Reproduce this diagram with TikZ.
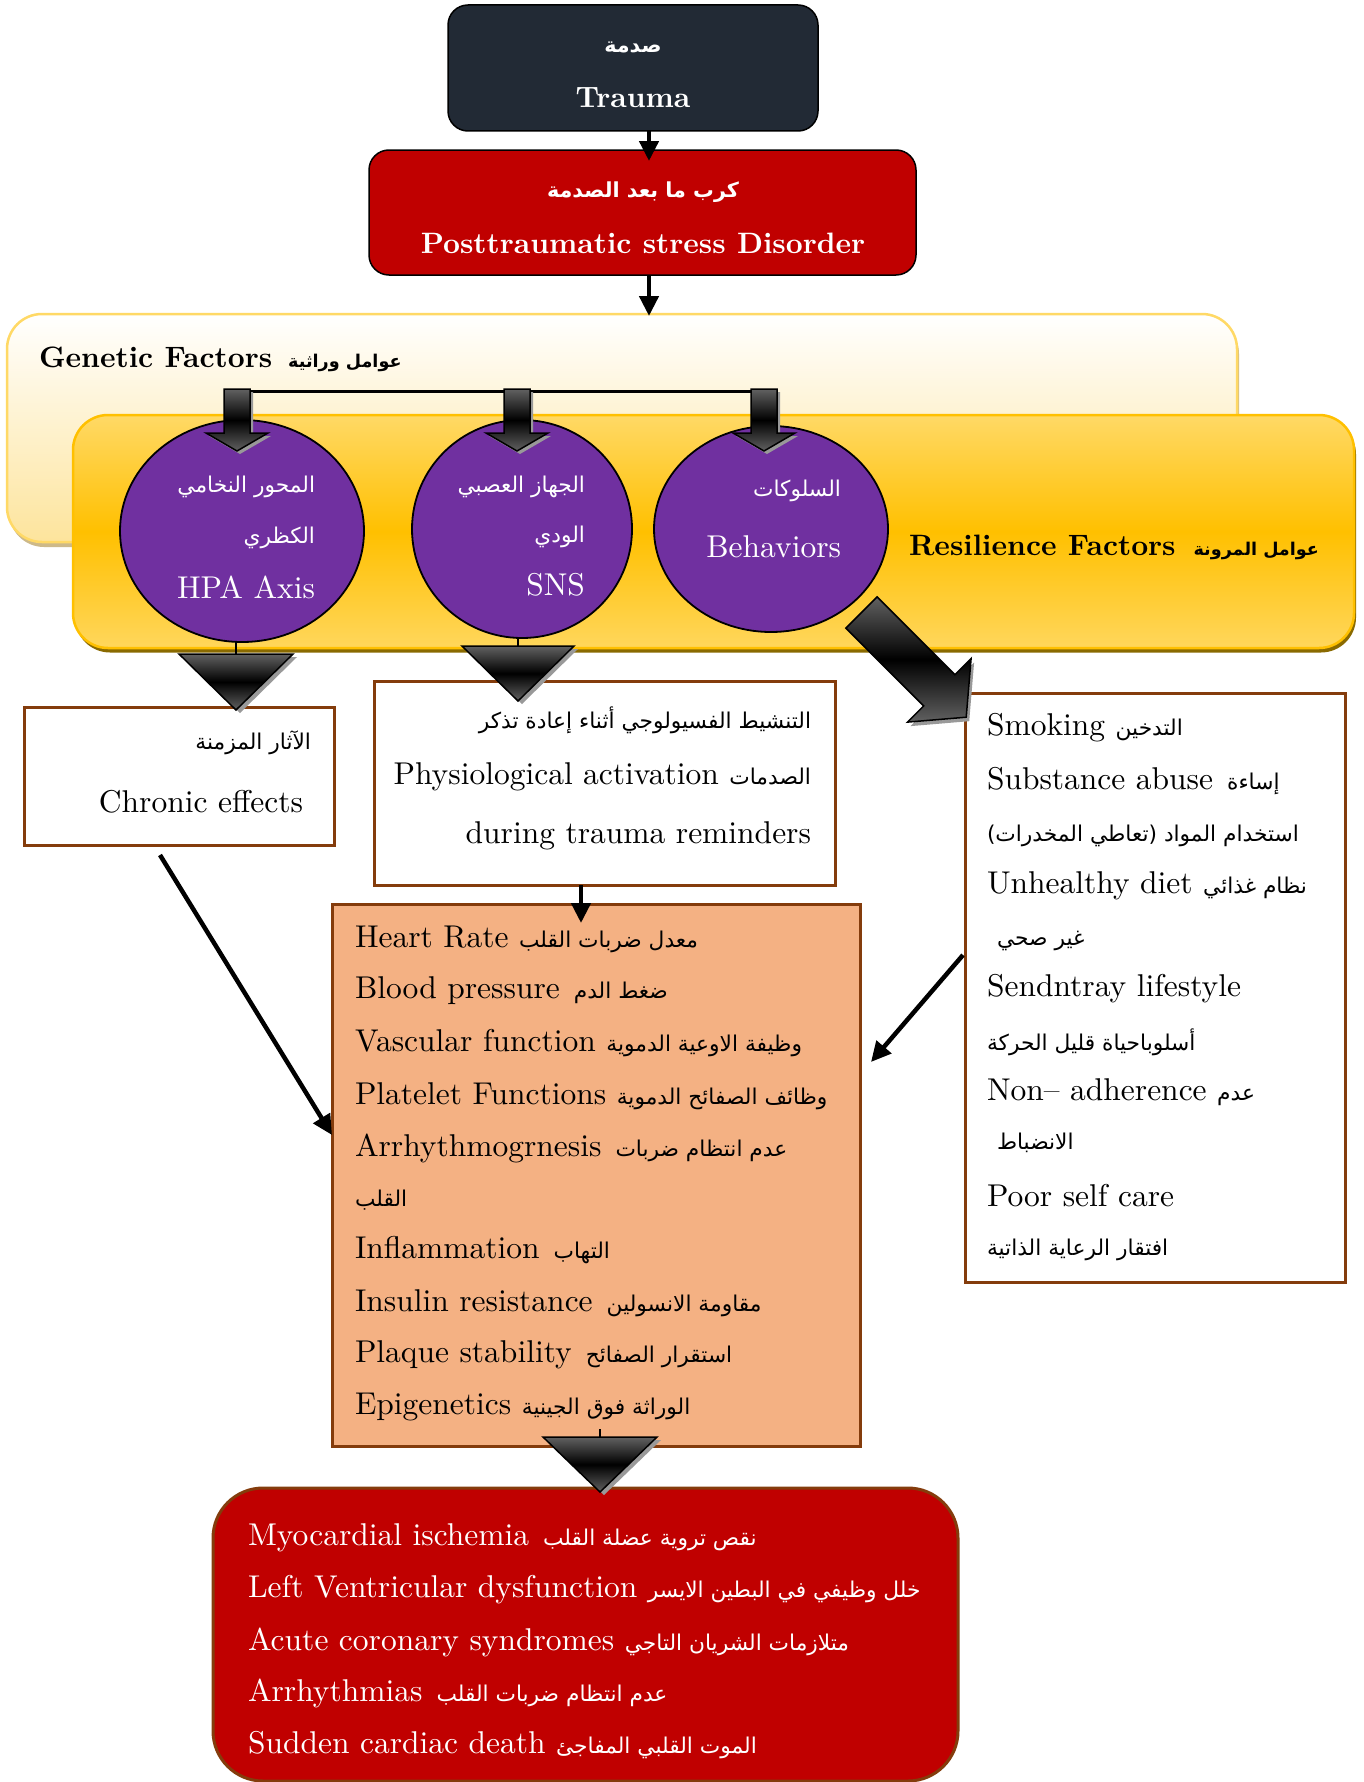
\documentclass[tikz,border=0pt]{standalone}
\usepackage{fontspec}
\setmainfont{lmroman10-regular.otf}[BoldFont=lmroman10-bold.otf]
\newfontfamily\arfont[Script=Arabic,Scale=0.69]{DejaVu Sans}
\TeXXeTstate=1
\usetikzlibrary{arrows.meta,shapes.geometric}
\newcommand\AR[1]{{\arfont\beginR #1\endR}}
\newcommand\ARB[1]{{\fontsize{30}{36}\selectfont\arfont\bfseries\beginR #1\endR}}
\newcommand\ARS[1]{{\fontsize{25.5}{30}\selectfont\arfont\bfseries\beginR #1\endR}}
\definecolor{navy}{HTML}{222A35}
\definecolor{darkred}{HTML}{C00000}
\definecolor{bordbrown}{HTML}{843C0C}
\definecolor{orng}{HTML}{F4B183}
\definecolor{purp}{HTML}{7030A0}
\definecolor{gold}{HTML}{FFC000}
\definecolor{lgold}{HTML}{FFD966}
\definecolor{cream}{HTML}{FDE49C}
\definecolor{goldshadow}{HTML}{8A6A00}
\definecolor{creamshadow}{HTML}{CDB989}
\tikzset{
  every node/.style={inner sep=0pt, outer sep=0pt},
  txt/.style={font=\fontsize{31.5}{37}\selectfont},
  wtxt/.style={txt, text=white},
  ttl/.style={font=\fontsize{29.5}{36}\selectfont\bfseries},
  wttl/.style={ttl, text=white},
  whitebox/.style={draw=bordbrown, line width=3pt, fill=white},
  roundbox/.style={draw=black, line width=1.5pt, rounded corners=20pt},
  arr/.style={line width=4.5pt, -{Triangle[length=20pt,width=19pt]}},
  blockfill/.style={draw=black, line width=1.5pt, top color=black!62, bottom color=black!62, middle color=black},
  blockshadow/.style={fill=black!40},
  circ/.style={ellipse, draw=black, line width=1.8pt, fill=purp},
}
\begin{document}
\begin{tikzpicture}[x=1pt,y=-1pt]
\useasboundingbox (0,0) rectangle (1364,1782);
\fill[white] (0,0) rectangle (1364,1782);

% top boxes
\node[roundbox, fill=navy, minimum width=370pt, minimum height=126pt] (trauma) at (633,68) {};
\node[roundbox, fill=darkred, minimum width=547pt, minimum height=125pt] (ptsd) at (642.5,212.5) {};

% genetic and resilience panels
\node[fill=creamshadow, rounded corners=35pt, minimum width=1230pt, minimum height=228pt] (genshadow) at (624,433) {};
\node[draw=lgold, line width=2.5pt, rounded corners=35pt, top color=white, bottom color=cream, minimum width=1230pt, minimum height=228pt] (genetic) at (622,428) {};
\node[fill=goldshadow, rounded corners=35pt, minimum width=1281pt, minimum height=233pt] (resshadow) at (715.5,536) {};
\node[draw=gold, line width=2.5pt, rounded corners=35pt, top color=lgold, bottom color=lgold!90!gold, middle color=gold, minimum width=1281pt, minimum height=233pt] (resil) at (713.5,531.5) {};

% ellipses
\node[circ, minimum width=244pt, minimum height=222pt] (hpa) at (242,531) {};
\node[circ, minimum width=220pt, minimum height=218pt] (sns) at (522,529) {};
\node[circ, minimum width=234pt, minimum height=206pt] (beh) at (771,529) {};

% white boxes
\node[whitebox, minimum width=310pt, minimum height=138pt] (chronic) at (179,776) {};
\node[whitebox, minimum width=461pt, minimum height=204pt] (physio) at (604.5,783) {};
\node[whitebox, minimum width=380pt, minimum height=589pt] (lifestyle) at (1155,987.5) {};
\node[draw=bordbrown, line width=3pt, fill=orng, minimum width=528pt, minimum height=542pt] (cardio) at (596,1175) {};
\node[draw=bordbrown, line width=3pt, fill=darkred, rounded corners=50pt, minimum width=745pt, minimum height=293pt] (outcome) at (585.5,1634.5) {};

% coordinates
\coordinate (t2p) at (649,161);
\coordinate (p2g) at (649,316);
\coordinate (g1) at (237,391);
\coordinate (g3) at (764,391);
\coordinate (tri1) at (236,654);
\coordinate (tri2) at (518,646);
\coordinate (tri3) at (600,1437);
\coordinate (stem3) at (600,1429);
\coordinate (phy2c) at (581,923);
\coordinate (chrS) at (160,855);
\coordinate (chrE) at (332,1135);
\coordinate (lifS) at (963,955);
\coordinate (lifE) at (871,1062);

% connectors
\draw[arr] (trauma.south -| t2p) -- (t2p);
\draw[arr] (ptsd.south -| p2g) -- (p2g);
\draw[line width=3pt] (g1) -- (g3);
\draw[line width=2pt] (hpa.south -| tri1) -- (tri1);
\draw[line width=2pt] (sns.south -| tri2) -- (tri2);
\draw[line width=2pt] (stem3) -- (tri3);
\draw[arr] (physio.south -| phy2c) -- (phy2c);
\draw[arr] (chrS) -- (chrE);
\draw[arr] (lifS) -- (lifE);

% vertical block arrows
\foreach \cx in {237,517,764} {
  \begin{scope}[shift={(\cx,0)}]
    \fill[blockshadow, shift={(3,3)}] (-13,389) -- (13,389) -- (13,433) -- (31,433) -- (0,451) -- (-31,433) -- (-13,433) -- cycle;
    \path[blockfill] (-13,389) -- (13,389) -- (13,433) -- (31,433) -- (0,451) -- (-31,433) -- (-13,433) -- cycle;
  \end{scope}
}
% down triangles
\foreach \cx/\ty/\hw/\h in {236/654/57/56, 518/646/56/55, 600/1437/57/55} {
  \fill[blockshadow, shift={(4,3)}] (\cx-\hw,\ty) -- (\cx+\hw,\ty) -- (\cx,\ty+\h) -- cycle;
  \path[blockfill] (\cx-\hw,\ty) -- (\cx+\hw,\ty) -- (\cx,\ty+\h) -- cycle;
}
% diagonal block arrow
\fill[blockshadow, shift={(3,4)}] (877.1,596.9) -- (954.9,674.7) -- (971.1,658.5) -- (966.2,717.2) -- (907.5,722.1) -- (923.7,705.9) -- (845.9,628.1) -- cycle;
\path[blockfill] (877.1,596.9) -- (954.9,674.7) -- (971.1,658.5) -- (966.2,717.2) -- (907.5,722.1) -- (923.7,705.9) -- (845.9,628.1) -- cycle;

% texts: top
\node[wttl] (traumaAr) at (633,47) {\ARB{صدمة}};
\node[wttl] (traumaEn) at (633,98) {Trauma};
\node[wttl] (ptsdAr) at (643,192) {\ARB{كرب ما بعد الصدمة}};
\node[wttl] (ptsdEn) at (643,243) {Posttraumatic stress Disorder};
\node[ttl, anchor=west] (genTxt) at (39,359) {Genetic Factors\hspace{16pt}\ARS{عوامل وراثية}};
\node[ttl, anchor=west] (resTxt) at (909,547) {Resilience Factors\hspace{18pt}\ARS{عوامل المرونة}};

% ellipse texts
\node[wtxt, anchor=east] (hpa1) at (315,487) {\AR{المحور النخامي}};
\node[wtxt, anchor=east] (hpa2) at (315,538) {\AR{الكظري}};
\node[wtxt, anchor=east] (hpa3) at (315,587) {HPA Axis};
\node[wtxt, anchor=east] (sns1) at (585,487) {\AR{الجهاز العصبي}};
\node[wtxt, anchor=east] (sns2) at (585,537) {\AR{الودي}};
\node[wtxt, anchor=east] (sns3) at (585,585) {SNS};
\node[wtxt, anchor=east] (beh1) at (841,491) {\AR{السلوكات}};
\node[wtxt, anchor=east] (beh2) at (841,547) {Behaviors};

% chronic / physio
\node[txt, anchor=east] (chr1) at (311,743) {\AR{الآثار المزمنة}};
\node[txt, anchor=east] (chr2) at (303,802) {Chronic effects};
\node[txt, anchor=east] (phy1) at (811,720) {\AR{التنشيط الفسيولوجي أثناء إعادة تذكر}};
\node[txt, anchor=east] (phy2) at (811,777) {Physiological activation \AR{الصدمات}};
\node[txt, anchor=east] (phy3) at (811,836) {during trauma reminders};

% lifestyle list
\node[txt, anchor=west] (l1) at (987,728) {Smoking \AR{التدخين}};
\node[txt, anchor=west] (l2) at (987,781) {Substance abuse\hspace{14pt}\AR{إساءة}};
\node[txt, anchor=west] (l3) at (987,836) {\AR{استخدام المواد (تعاطي المخدرات)}};
\node[txt, anchor=west] (l4) at (987,886) {Unhealthy diet \AR{نظام غذائي}};
\node[txt, anchor=west] (l5) at (997,941) {\AR{غير صحي}};
\node[txt, anchor=west] (l6) at (987,989) {Sendntray lifestyle};
\node[txt, anchor=west] (l7) at (987,1042) {\AR{أسلوباحياة قليل الحركة}};
\node[txt, anchor=west] (l8) at (987,1092) {Non-- adherence \AR{عدم}};
\node[txt, anchor=west] (l9) at (997,1143) {\AR{الانضباط}};
\node[txt, anchor=west] (l10) at (987,1196) {Poor self care};
\node[txt, anchor=west] (l11) at (987,1250) {\AR{افتقار الرعاية الذاتية}};

% cardio list
\node[txt, anchor=west] (c1) at (355,939) {Heart Rate \AR{معدل ضربات القلب}};
\node[txt, anchor=west] (c2) at (355,991) {Blood pressure\hspace{14pt}\AR{ضغط الدم}};
\node[txt, anchor=west] (c3) at (355,1043) {Vascular function \AR{وظيفة الاوعية الدموية}};
\node[txt, anchor=west] (c4) at (355,1096) {Platelet Functions \AR{وظائف الصفائح الدموية}};
\node[txt, anchor=west] (c5) at (355,1148) {Arrhythmogrnesis\hspace{14pt}\AR{عدم انتظام ضربات}};
\node[txt, anchor=west] (c6) at (355,1200) {\AR{القلب}};
\node[txt, anchor=west] (c7) at (355,1250) {Inflammation\hspace{14pt}\AR{التهاب}};
\node[txt, anchor=west] (c8) at (355,1303) {Insulin resistance\hspace{14pt}\AR{مقاومة الانسولين}};
\node[txt, anchor=west] (c9) at (355,1355) {Plaque stability\hspace{14pt}\AR{استقرار الصفائح}};
\node[txt, anchor=west] (c10) at (355,1407) {Epigenetics \AR{الوراثة فوق الجينية}};

% outcomes
\node[wtxt, anchor=west] (o1) at (248,1538) {Myocardial ischemia\hspace{14pt}\AR{نقص تروية عضلة القلب}};
\node[wtxt, anchor=west] (o2) at (248,1590) {Left Ventricular dysfunction \AR{خلل وظيفي في البطين الايسر}};
\node[wtxt, anchor=west] (o3) at (248,1642) {Acute coronary syndromes \AR{متلازمات الشريان التاجي}};
\node[wtxt, anchor=west] (o4) at (248,1693) {Arrhythmias\hspace{14pt}\AR{عدم انتظام ضربات القلب}};
\node[wtxt, anchor=west] (o5) at (248,1745) {Sudden cardiac death \AR{الموت القلبي المفاجئ}};
\end{tikzpicture}
\end{document}
